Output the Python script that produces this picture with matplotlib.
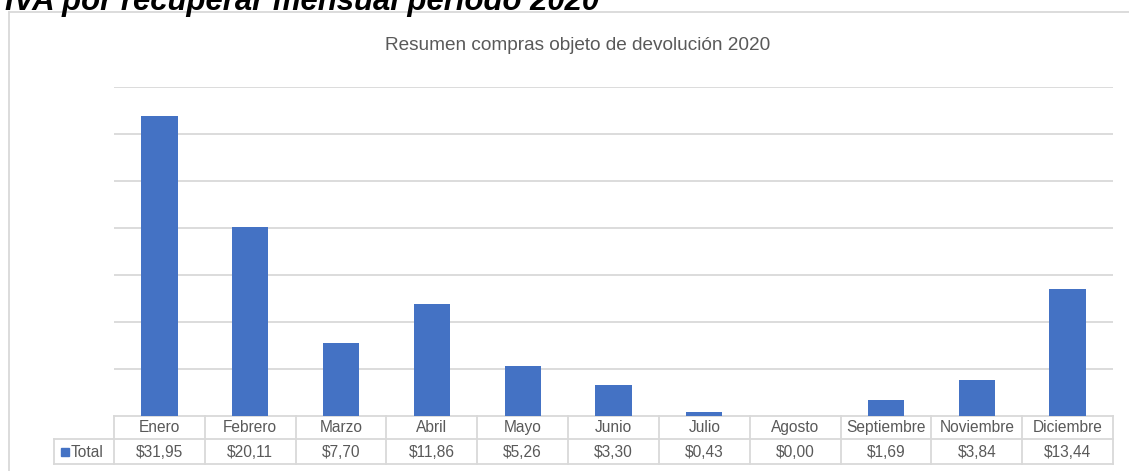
import matplotlib
matplotlib.use("Agg")
import matplotlib.pyplot as plt
from matplotlib.patches import Rectangle
from matplotlib.transforms import blended_transform_factory

plt.rcParams['font.family'] = ['Liberation Sans', 'DejaVu Sans']

# datos
meses = ['Enero', 'Febrero', 'Marzo', 'Abril', 'Mayo', 'Junio', 'Julio',
         'Agosto', 'Septiembre', 'Noviembre', 'Diciembre']
total = [31.95, 20.11, 7.70, 11.86, 5.26, 3.30, 0.43, 0.00, 1.69, 3.84, 13.44]
serie = 'Total'

W, H = 1129, 471
azul = '#4472C4'
gris_linea = '#d9d9d9'
gris_texto = '#595959'

fig = plt.figure(figsize=(W / 100, H / 100), dpi=100)


def fx(px):
    return px / W


def fy(py):
    return 1 - py / H


# titulo grande (cortado arriba, como en el original)
fig.text(fx(5), fy(10), 'IVA por recuperar mensual período 2020',
         fontsize=22.4, fontweight='bold', fontstyle='italic', color='black',
         ha='left', va='baseline')

# borde del grafico
fig.add_artist(plt.Line2D([fx(8.5), fx(8.5)], [fy(12), 0], color=gris_linea, lw=1.3))
fig.add_artist(plt.Line2D([fx(8.5), 1], [fy(12), fy(12)], color=gris_linea, lw=1.3))

# titulo del grafico
fig.text(fx(578), fy(50), 'Resumen compras objeto de devolución 2020',
         fontsize=13.7, color=gris_texto, ha='center', va='baseline')

top, base = 87, 415.7
ax = fig.add_axes([fx(114), fy(base), fx(1113) - fx(114), (base - top) / H])
x = range(len(meses))
ax.bar(x, total, width=0.4, color=azul, zorder=3)
ax.set_xlim(-0.5, len(meses) - 0.5)
ax.set_ylim(0, 35)
ax.set_yticks(range(5, 36, 5))
ax.grid(axis='y', color=gris_linea, lw=1.3, zorder=0)
ax.tick_params(left=False, bottom=False, labelleft=False, labelbottom=False)
for s in ax.spines.values():
    s.set_visible(False)

# tabla de datos
tr = blended_transform_factory(ax.transData, fig.transFigure)
r0, r1, r2 = 415.7, 438.7, 464.3
n = len(meses)
lkw = dict(color=gris_linea, lw=1.3, clip_on=False)
ax.plot([-0.5, n - 0.5], [fy(r0), fy(r0)], transform=tr, **lkw)
for i in range(n + 1):
    ax.plot([i - 0.5, i - 0.5], [fy(r0), fy(r2)], transform=tr, **lkw)
for r in (r1, r2):
    fig.add_artist(plt.Line2D([fx(54), fx(114)], [fy(r), fy(r)], color=gris_linea, lw=1.3))
    ax.plot([-0.5, n - 0.5], [fy(r), fy(r)], transform=tr, **lkw)
fig.add_artist(plt.Line2D([fx(54), fx(54)], [fy(r1), fy(r2)], color=gris_linea, lw=1.3))

for i, (m, v) in enumerate(zip(meses, total)):
    ax.text(i, fy(432.3), m, transform=tr, ha='center', va='baseline',
            fontsize=11.2, color=gris_texto)
    ax.text(i, fy(457), '$' + f'{v:.2f}'.replace('.', ','), transform=tr,
            ha='center', va='baseline', fontsize=11.2, color=gris_texto)

fig.add_artist(Rectangle((fx(60.5), fy(456)), fx(8.5), 8.5 / H, color=azul))
fig.text(fx(70.5), fy(457), serie, fontsize=11.2, color=gris_texto,
         ha='left', va='baseline')

fig.savefig('out.png', dpi=100)
